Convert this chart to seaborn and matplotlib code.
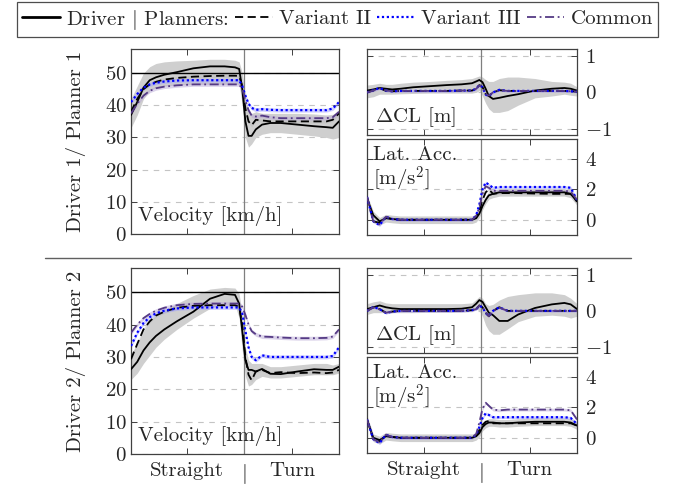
import matplotlib
matplotlib.use("Agg")
import matplotlib.pyplot as plt
from matplotlib.lines import Line2D
import seaborn as sns

# ---------------- data ----------------
X = [0, 0.03, 0.06, 0.09, 0.12, 0.16, 0.22, 0.3, 0.38, 0.45, 0.5, 0.52, 0.535,
     0.55, 0.565, 0.58, 0.6, 0.63, 0.67, 0.72, 0.8, 0.88, 0.94, 0.97, 1.0]
DIVIDER = 0.543
XTICKS = [0.27, 0.543, 0.774]
XTICKLABELS = ["Straight", "$|$", "Turn"]
ROW_LABELS = ["Driver 1/ Planner 1", "Driver 2/ Planner 2"]
LEGEND_LABELS = ["Driver $|$ Planners:", "Variant II", "Variant III", "Common"]

# Row 1 velocity [km/h]
v1_driver = [37, 41, 45.5, 47.8, 48.7, 49.5, 50.3, 51.5, 52.1, 52.1, 51.8, 51.3, 45,
             35, 30.5, 30.5, 32.5, 34, 34.5, 34.5, 34, 33.5, 33.2, 33, 35]
v1_var2 = [38, 42, 45, 46.5, 47.3, 48, 48.5, 48.9, 49.1, 49.2, 49.2, 49.1, 46,
           39, 35, 33.8, 35.5, 35.3, 35, 35, 35, 35, 35, 35.5, 37.5]
v1_var3 = [41, 43.5, 45.5, 46.5, 47, 47.4, 47.7, 47.8, 47.8, 47.8, 47.8, 47.8, 46,
           43, 40.5, 39.2, 38.6, 38.8, 38.6, 38.5, 38.5, 38.5, 38.5, 39, 41]
v1_common = [37.5, 40.5, 43, 44.5, 45.3, 45.8, 46.2, 46.5, 46.5, 46.5, 46.5, 46.5, 45,
             41.5, 38.5, 36.8, 36.5, 36.8, 36.3, 36, 36, 36, 36, 36.3, 38]
v1_band_hi = [42, 46, 50, 52, 53, 53.5, 53.8, 54, 54.3, 54.3, 54, 53.5, 50,
              42, 38, 37.5, 38, 37.5, 37.5, 37.5, 37.5, 37.3, 37, 37.2, 38]
v1_band_lo = [33, 37, 42, 44.5, 45.5, 46, 46.3, 46.5, 46.5, 46.5, 46.5, 46.5, 40,
              30, 27, 28, 30, 31, 31.5, 31.5, 31, 30.5, 30, 29.5, 30]

# Row 1 lateral deviation ΔCL [m]
d1_driver = [0.05, 0.08, 0.12, 0.1, 0.08, 0.1, 0.14, 0.17, 0.2, 0.22, 0.25, 0.3, 0.34,
             0.28, 0.1, -0.1, -0.18, -0.15, -0.1, -0.05, 0.05, 0.1, 0.12, 0.1, 0.05]
d1_var2 = [0.0, 0.05, 0.12, 0.04, 0.03, 0.04, 0.04, 0.04, 0.04, 0.05, 0.05, 0.1, 0.2,
           0.15, -0.05, -0.1, 0.0, 0.06, 0.04, 0.04, 0.04, 0.04, 0.04, 0.03, 0.02]
d1_var3 = [0.0, 0.06, 0.12, 0.05, 0.03, 0.04, 0.04, 0.04, 0.04, 0.05, 0.05, 0.1, 0.2,
           0.14, -0.06, -0.1, 0.0, 0.07, 0.04, 0.04, 0.04, 0.04, 0.04, 0.03, 0.02]
d1_common = [0.0, 0.05, 0.11, 0.05, 0.03, 0.04, 0.04, 0.04, 0.04, 0.05, 0.05, 0.1, 0.19,
             0.15, -0.04, -0.09, 0.0, 0.06, 0.04, 0.04, 0.04, 0.04, 0.04, 0.03, 0.02]
d1_band_hi = [0.2, 0.22, 0.25, 0.22, 0.22, 0.25, 0.28, 0.3, 0.33, 0.35, 0.38, 0.42, 0.45,
              0.42, 0.35, 0.3, 0.3, 0.38, 0.42, 0.42, 0.38, 0.3, 0.28, 0.25, 0.15]
d1_band_lo = [-0.15, -0.12, -0.05, -0.05, -0.05, -0.04, -0.03, -0.02, -0.02, -0.02, -0.02, 0.0, 0.05,
              -0.1, -0.3, -0.45, -0.55, -0.55, -0.5, -0.35, -0.15, -0.1, -0.05, -0.08, -0.1]

# Row 1 lateral acceleration [m/s^2]
a1_driver = [1.4, 0.3, -0.1, 0.1, 0.05, 0.0, 0.0, 0.0, 0.0, 0.0, 0.0, 0.1, 0.4,
             0.9, 1.3, 1.6, 1.7, 1.8, 1.8, 1.8, 1.8, 1.8, 1.8, 1.7, 1.2]
a1_var2 = [1.5, -0.1, -0.2, 0.15, 0.05, 0.0, 0.0, 0.0, 0.0, 0.0, 0.0, 0.2, 0.6,
           1.3, 1.8, 2.0, 1.7, 1.75, 1.75, 1.75, 1.72, 1.7, 1.7, 1.7, 1.2]
a1_var3 = [1.5, -0.1, -0.35, 0.2, 0.05, 0.0, 0.0, 0.0, 0.0, 0.0, 0.0, 0.3, 1.0,
           2.0, 2.45, 2.3, 2.1, 2.15, 2.15, 2.15, 2.15, 2.15, 2.15, 2.1, 1.3]
a1_common = [1.5, -0.1, -0.3, 0.2, 0.05, 0.0, 0.0, 0.0, 0.0, 0.0, 0.0, 0.25, 0.8,
             1.7, 2.2, 2.1, 1.9, 1.9, 1.9, 1.9, 1.9, 1.9, 1.9, 1.85, 1.3]

# Row 2 velocity [km/h]
v2_driver = [26.2, 28.5, 32, 34.5, 36.5, 38.5, 41, 44, 48, 49.5, 49.2, 46.5, 38,
             29, 26, 26, 25.5, 26.3, 24.8, 24.7, 25.5, 26.2, 26, 26, 27]
v2_var2 = [29.3, 34, 38.5, 41, 42.8, 44, 45.2, 45.8, 46, 46, 46, 45.5, 40,
           30, 24.5, 22.8, 25.5, 26, 25, 25.3, 25, 25.2, 25, 25.2, 26]
v2_var3 = [33.4, 37.5, 40.5, 42.3, 43.5, 44.3, 45, 45.3, 45.3, 45.3, 45.3, 45.3, 43.5,
           38, 33, 30, 29, 30.5, 30, 30, 30, 30, 30, 30.3, 33]
v2_common = [37.5, 40, 42, 43.3, 44.3, 45.2, 46, 46.4, 46.5, 46.5, 46.5, 46.5, 45.5,
             43, 40, 38, 37, 36.3, 36.2, 36, 35.8, 35.8, 35.9, 36.3, 38.5]
v2_band_hi = [31, 34, 38, 41, 43, 44.5, 46.5, 49, 51, 51.5, 51.3, 49.5, 43,
              33, 29, 28, 28, 28, 27, 27, 27.5, 28, 28, 27.5, 28]
v2_band_lo = [23, 25, 28, 30.5, 33, 35.5, 38.5, 42, 45, 46.5, 46, 42, 32,
              24, 21, 21.5, 23, 24, 23.5, 23.5, 24, 24.5, 24.5, 24.5, 25]

# Row 2 lateral deviation ΔCL [m]
d2_driver = [0.05, 0.1, 0.15, 0.1, 0.07, 0.05, 0.05, 0.05, 0.05, 0.06, 0.1, 0.2, 0.3,
             0.25, 0.1, -0.05, -0.12, -0.28, -0.28, -0.1, 0.08, 0.18, 0.22, 0.18, 0.05]
d2_var2 = [0.0, 0.1, 0.05, -0.05, -0.02, 0.0, 0.0, 0.0, 0.0, 0.0, 0.02, 0.05, 0.15,
           0.1, -0.05, -0.15, 0.0, 0.1, 0.0, 0.0, 0.0, 0.0, 0.0, 0.0, 0.0]
d2_var3 = [0.0, 0.11, 0.05, -0.06, -0.02, 0.0, 0.0, 0.0, 0.0, 0.0, 0.02, 0.05, 0.14,
           0.1, -0.06, -0.14, 0.0, 0.1, 0.0, 0.0, 0.0, 0.0, 0.0, 0.0, 0.0]
d2_common = [0.0, 0.1, 0.04, -0.05, -0.02, 0.0, 0.0, 0.0, 0.0, 0.0, 0.02, 0.05, 0.15,
             0.1, -0.04, -0.15, 0.0, 0.09, 0.0, 0.0, 0.0, 0.0, 0.0, 0.0, 0.0]
d2_band_hi = [0.2, 0.25, 0.28, 0.22, 0.2, 0.2, 0.2, 0.2, 0.2, 0.2, 0.22, 0.32, 0.4,
              0.35, 0.2, 0.15, 0.18, 0.3, 0.4, 0.45, 0.5, 0.5, 0.45, 0.35, 0.2]
d2_band_lo = [-0.1, -0.05, -0.05, -0.05, -0.05, -0.05, -0.05, -0.04, -0.04, -0.03, -0.02, 0.05, 0.0,
              -0.15, -0.4, -0.55, -0.65, -0.65, -0.5, -0.3, -0.15, -0.12, -0.15, -0.2, -0.15]

# Row 2 lateral acceleration [m/s^2]
a2_driver = [1.2, 0.0, -0.15, 0.1, 0.05, 0.0, 0.0, 0.0, 0.0, 0.0, 0.0, 0.1, 0.3,
             0.7, 0.9, 1.0, 1.0, 0.95, 0.95, 1.0, 1.05, 1.05, 1.05, 1.0, 0.8]
a2_var2 = [1.2, -0.1, -0.25, 0.15, 0.05, 0.0, 0.0, 0.0, 0.0, 0.0, 0.0, 0.15, 0.5,
           0.85, 1.05, 1.1, 0.95, 0.95, 0.95, 0.95, 0.95, 0.95, 0.95, 0.95, 0.8]
a2_var3 = [1.2, -0.1, -0.35, 0.2, 0.05, 0.0, 0.0, 0.0, 0.0, 0.0, 0.0, 0.2, 0.7,
           1.3, 1.6, 1.5, 1.35, 1.35, 1.35, 1.35, 1.35, 1.35, 1.35, 1.3, 0.9]
a2_common = [1.2, -0.1, -0.3, 0.2, 0.05, 0.0, 0.0, 0.0, 0.0, 0.0, 0.0, 0.25, 1.0,
             1.9, 2.3, 2.1, 1.85, 1.8, 1.85, 1.85, 1.85, 1.85, 1.85, 1.8, 1.2]

# ---------------- style ----------------
sns.set_style("white")
plt.rcParams.update({
    "font.family": ["cmr10", "DejaVu Serif"],
    "mathtext.fontset": "cm",
    "axes.formatter.use_mathtext": True,
    "axes.unicode_minus": False,
    "font.size": 15,
})

BLACK = "#000000"
BLUE = "#0000ff"
PURPLE = "#553a85"
GRAY_BAND = "#cfcfcf"
BLUE_BAND = "#9f9fff"
PURPLE_BAND = "#b9a8d6"
SPINE = "#404040"

STY = {
    "driver": dict(color=BLACK, linestyle="-", lw=1.3),
    "var2": dict(color=BLACK, linestyle=(0, (4.5, 2.5)), lw=1.3),
    "var3": dict(color=BLUE, linestyle=(0, (1, 1.2)), lw=1.6),
    "common": dict(color=PURPLE, linestyle=(0, (5, 2, 1, 2)), lw=1.3),
}
BAND_W = {"var2": 0.5, "var3": 0.6, "common": 0.6}

W, H = 677, 487
fig = plt.figure(figsize=(W / 100, H / 100), dpi=100)


def rect(l, t, r, b):
    return [l / W, 1 - b / H, (r - l) / W, (b - t) / H]


def draw(ax, series, band, planner_band_scale, ylim, yticks, side):
    lo, hi = band
    ax.fill_between(X, lo, hi, color=GRAY_BAND, lw=0, zorder=1)
    band_cols = {"var2": "#bdbdbd", "var3": BLUE_BAND, "common": PURPLE_BAND}
    for key in ["var2", "var3", "common"]:
        y = series[key]
        w = BAND_W[key] * planner_band_scale
        ax.fill_between(X, [v - w for v in y], [v + w for v in y],
                        color=band_cols[key], alpha=0.5, lw=0, zorder=1.2)
    for key in ["driver", "var2", "var3", "common"]:
        sns.lineplot(x=X, y=series[key], ax=ax, zorder=3, **STY[key])
    ax.axvline(DIVIDER, color="#7f7f7f", lw=0.9, zorder=2)
    ax.set_xlim(0, 1)
    ax.set_ylim(*ylim)
    ax.set_yticks(yticks)
    ax.yaxis.grid(True, linestyle=(0, (5, 5)), color="#c4c4c4", lw=0.8)
    ax.xaxis.grid(False)
    ax.set_axisbelow(True)
    ax.set_xticks(XTICKS)
    ax.set_xlabel("")
    ax.set_ylabel("")
    for s in ax.spines.values():
        s.set_color(SPINE)
        s.set_linewidth(0.9)
    ax.tick_params(axis="both", direction="in", length=4, width=0.7, color=SPINE,
                   top=True, bottom=True, left=True, right=True, labelsize=15)
    if side == "right":
        ax.tick_params(axis="y", labelleft=False, labelright=True, pad=6)
    else:
        ax.tick_params(axis="y", labelleft=True, labelright=False, pad=3)


rows = [
    dict(t_left=(49, 234), t_d=(49, 135), t_a=(139, 235),
         v=dict(driver=v1_driver, var2=v1_var2, var3=v1_var3, common=v1_common), vb=(v1_band_lo, v1_band_hi),
         d=dict(driver=d1_driver, var2=d1_var2, var3=d1_var3, common=d1_common), db=(d1_band_lo, d1_band_hi),
         a=dict(driver=a1_driver, var2=a1_var2, var3=a1_var3, common=a1_common)),
    dict(t_left=(268, 454), t_d=(268, 353), t_a=(357, 453),
         v=dict(driver=v2_driver, var2=v2_var2, var3=v2_var3, common=v2_common), vb=(v2_band_lo, v2_band_hi),
         d=dict(driver=d2_driver, var2=d2_var2, var3=d2_var3, common=d2_common), db=(d2_band_lo, d2_band_hi),
         a=dict(driver=a2_driver, var2=a2_var2, var3=a2_var3, common=a2_common)),
]

for i, row in enumerate(rows):
    last = i == len(rows) - 1
    # velocity
    axv = fig.add_axes(rect(131, row["t_left"][0], 339, row["t_left"][1]))
    draw(axv, row["v"], row["vb"], 1.0, (0, 57.5), [0, 10, 20, 30, 40, 50], "left")
    axv.axhline(50, color=BLACK, lw=1.0, zorder=2.5)
    axv.text(0.035, 0.095, "Velocity [km/h]", transform=axv.transAxes,
             ha="left", va="center", fontsize=15, zorder=5)
    # ΔCL
    axd = fig.add_axes(rect(367, row["t_d"][0], 577, row["t_d"][1]))
    draw(axd, row["d"], row["db"], 0.05, (-1.17, 1.19), [-1, 0, 1], "right")
    axd.text(0.04, 0.21, r"$\Delta$CL [m]", transform=axd.transAxes,
             ha="left", va="center", fontsize=15, zorder=5)
    # lateral acceleration
    lat_band = ([v - 0.25 for v in row["a"]["driver"]], [v + 0.25 for v in row["a"]["driver"]])
    axa = fig.add_axes(rect(367, row["t_a"][0], 577, row["t_a"][1]))
    draw(axa, row["a"], lat_band, 0.15, (-1.0, 5.3), [0, 2, 4], "right")
    axa.text(0.03, 0.83, "Lat. Acc.", transform=axa.transAxes,
             ha="left", va="center", fontsize=15, zorder=5)
    axa.text(0.03, 0.58, r"[m/s$^2$]", transform=axa.transAxes,
             ha="left", va="center", fontsize=15, zorder=5)

    for ax in (axv, axd, axa):
        if last and ax is not axd:
            ax.set_xticklabels(XTICKLABELS, fontsize=15)
            ax.tick_params(axis="x", pad=6)
        else:
            ax.set_xticklabels([])

    cy = (row["t_left"][0] + row["t_left"][1]) / 2
    fig.text(76 / W, 1 - cy / H, ROW_LABELS[i], rotation=90, ha="center",
             va="center", fontsize=15)

# separator line between the two rows
fig.add_artist(Line2D([45 / W, 631 / W], [1 - 258 / H, 1 - 258 / H],
                      color="#606060", lw=1.0))

# legend
handles = [Line2D([], [], **STY[k]) for k in ["driver", "var2", "var3", "common"]]
handles[0].set_linewidth(2.0)
leg = fig.legend(handles, LEGEND_LABELS, loc="center", ncol=4,
                 bbox_to_anchor=((13 + 662) / 2 / W, 1 - 19.5 / H),
                 frameon=True, fancybox=False, edgecolor="#202020",
                 fontsize=15, handlelength=1.8, handletextpad=0.3,
                 columnspacing=0.3, borderpad=0.25, borderaxespad=0)
leg.get_frame().set_linewidth(0.9)

fig.savefig("out.png", dpi=100)
